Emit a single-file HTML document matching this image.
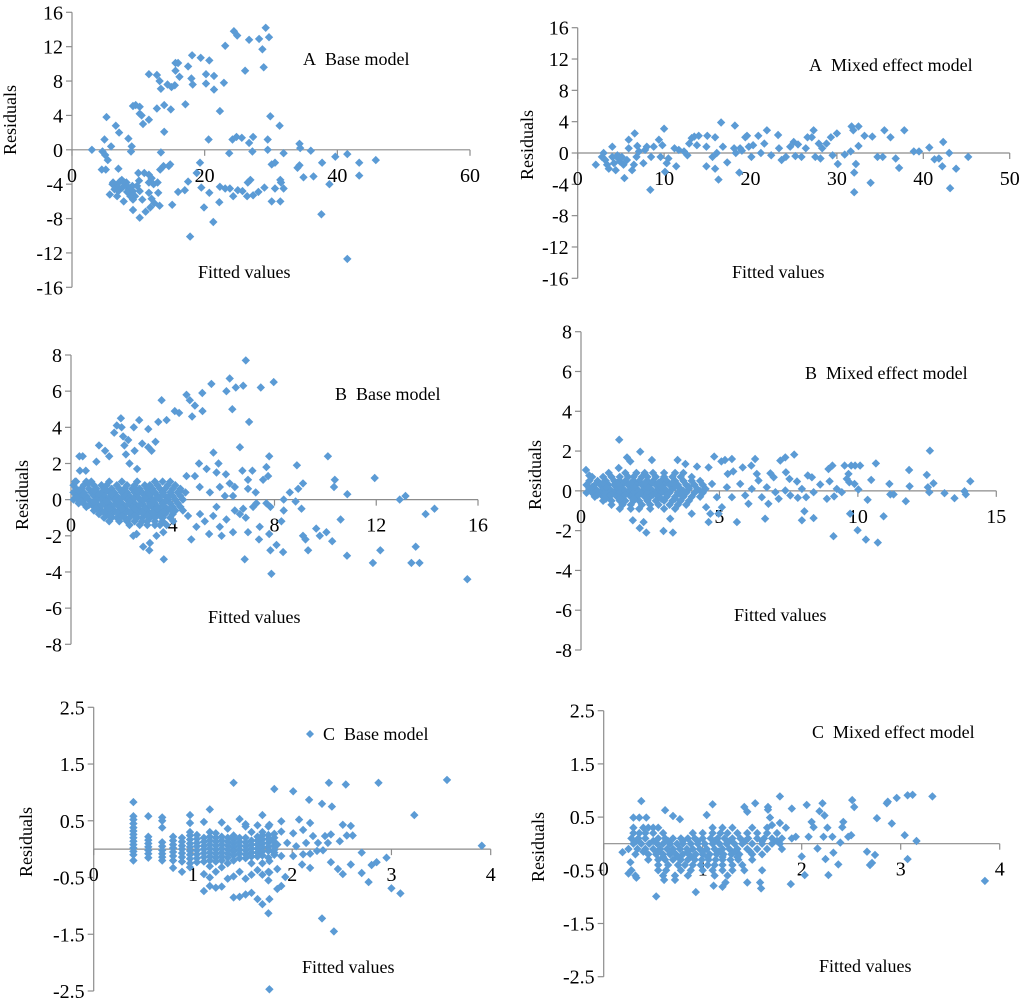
<!DOCTYPE html>
<html><head><meta charset="utf-8">
<style>
html,body{margin:0;padding:0;background:#fff;}
svg{display:block;font-family:"Liberation Serif",serif;}
</style></head>
<body>
<svg id="fig" width="1024" height="1005" viewBox="0 0 1024 1005" xmlns="http://www.w3.org/2000/svg"></svg>
<script>
// ---------- DATA ----------
const aBaseTicksX = ["0","20","40","60"];
const aBaseTicksY = ["16","12","8","4","0","-4","-8","-12","-16"];
const aBase = [[3,0],[4.5,-2.3],[5.1,-2.3],[4.9,1.2],[5.2,3.8],[4.6,-0.2],[5,-0.6],[5.4,-1.2],[5.9,0.4],[5.7,-5.2],[6.6,2.8],[7.1,2],[7,-2.2],[6.2,-3.8],[6.7,-4.2],[7,-4.8],[7.5,-3.5],[7.8,-6],[8.2,-3.8],[8.5,1.3],[9,0.4],[8.9,-0.2],[9.2,5.1],[9.6,5.2],[10.2,5],[10.2,4.2],[10.5,4],[10.7,3],[11.6,3.5],[11.6,8.8],[12.8,8.7],[13.2,8],[13.4,7.1],[12.8,4.8],[13.9,5.2],[13.9,2.1],[13.4,-0.3],[14.4,7.6],[15,7.3],[15.5,7.5],[14.9,4.7],[15.6,9.2],[15.6,10.1],[16,10.1],[16.2,8.5],[17.1,5.3],[17.5,9.7],[18.1,11],[18,8.3],[18.2,7.6],[19.4,10.7],[20.2,8.8],[20.2,7.7],[20.7,10.4],[21.4,8.6],[21.4,7],[22.3,4.5],[22.9,7.8],[23.1,12.1],[24.4,13.8],[24.9,13.3],[20.6,1.2],[23.7,-0.4],[24.2,1.2],[24.8,1.5],[25.6,1.4],[26.1,9.2],[26.7,12.8],[27.3,1.5],[26.7,0.8],[27.2,-0.2],[28.2,12.9],[28.7,11.7],[28.9,9.6],[29.2,14.2],[29.7,13.1],[29.5,1.2],[29.5,0],[29.9,3.9],[31.3,2.8],[30.1,-1.7],[30.6,-1.5],[31.9,-0.4],[34.3,0.7],[34.4,0.2],[36,-0.1],[34,-2.1],[34.3,-1.8],[34.9,-3.2],[36.4,-3.1],[37.7,-1.5],[39.7,-0.8],[41.5,-0.5],[43.3,-1.5],[43.3,-3],[45.8,-1.2],[38.8,-4],[37.6,-7.5],[41.5,-12.7],[9.1,-4.2],[9.2,-4.8],[9.5,-5.4],[9.8,-4.2],[10.1,-3.6],[10.2,-4.8],[9.2,-5.8],[9.2,-7],[10.2,-7.9],[10.6,-5.8],[11.1,-7.2],[10,-2.7],[10.9,-2.7],[11.6,-2.9],[11.6,-3.8],[12,-3.3],[12.3,-4],[12.9,-3.8],[11.6,-5],[12,-5.7],[12.4,-6.2],[13,-5],[11.8,-6.7],[13.2,-6.5],[13.3,-2.3],[13.8,-1.9],[14.6,-1.9],[14.8,-1.7],[15.1,-6.4],[16,-4.9],[17,-4.7],[17.8,-10.1],[17.5,-3.7],[18.8,-2.7],[19.3,-1.5],[19.5,-4.4],[19.9,-6.7],[20.7,-5],[21.3,-8.4],[22.2,-6.1],[22.3,-4.3],[23.1,-4.5],[23.8,-4.5],[24.3,-5.4],[25,-4.7],[25.7,-4.8],[26.4,-5.4],[26.5,-3.8],[26.9,-3.5],[27.3,-5.3],[28.1,-4.9],[29,-4.4],[30.1,-6],[30.6,-4.5],[31.4,-6],[31.4,-3.5],[31.5,-3.8],[31.9,-4.5],[6.1,-4],[6.4,-4.6],[6.8,-5.4],[7.2,-3.7],[7.6,-4.4],[7.9,-3.8],[8.3,-4.2],[8.6,-4.6],[8.8,-5.4],[8.3,-4.9]];

const aMixedTicksX = ["0","10","20","30","40","50"];
const aMixedTicksY = ["16","12","8","4","0","-4","-8","-12","-16"];
const aMixed = [[2.1,-1.5],[2.8,-0.5],[3,0],[3.2,-0.9],[3.4,-1.5],[3.6,-2],[4,0.8],[4,-0.5],[4.2,-1.3],[4.4,-2.2],[4.6,-0.3],[4.7,-0.7],[4.9,-1.1],[5.1,-0.5],[5.3,-1.5],[5.4,-3.2],[5.7,-0.9],[5.9,1.7],[5.9,0.6],[6.3,-2.2],[6.5,-1.5],[6.6,2.5],[6.8,-0.5],[6.9,0.9],[7.1,0.2],[7.6,-1.3],[7.8,0.4],[8,0.8],[8.4,-4.7],[8.5,-0.5],[8.8,0.8],[9.4,1.7],[9.6,-0.5],[9.8,1],[10,3.1],[10.1,-2.4],[10.3,-1.3],[10.5,-0.7],[11.2,0.6],[11.4,-1.7],[11.7,0.4],[12.3,0.2],[12.7,-0.3],[12.9,1.2],[13.2,1.9],[13.5,2.1],[13.8,1],[14,2.2],[15,2.2],[14.9,0.8],[14.9,-1.7],[15.6,-0.5],[15.9,2],[15.9,-2],[16.1,0],[16.3,-3.4],[16.6,3.9],[16.8,0.8],[17.3,-1.2],[18.1,0.6],[18.2,3.5],[18.3,0],[18.7,-2.5],[18.8,0.6],[19,0.3],[19.4,2],[19.6,2.2],[19.8,0.8],[20.1,-0.5],[20.3,1],[20.9,2.2],[21.2,0],[21.6,1.2],[21.9,2.9],[22.4,-0.3],[23.2,2.3],[23.3,0.6],[23.6,-0.9],[24.1,-0.5],[24.6,0.8],[25,1.4],[25.2,-0.4],[25.5,1.1],[25.9,-0.5],[26.4,0.6],[26.6,2],[27.1,2],[27.3,2.9],[27.5,-0.5],[27.9,1.2],[28.1,-0.7],[28.3,0.6],[28.8,1.2],[29.3,2],[29.5,-0.3],[30,2.5],[30.1,-1.4],[30.9,-0.2],[31.6,0.2],[31.7,3.4],[31.9,2.9],[32,-2.5],[32,-5],[32.2,-1.4],[32.5,0.9],[32.5,3.4],[33.2,2.2],[33.9,-3.8],[34.1,2.1],[34.7,-0.5],[35.3,-0.5],[35.5,2.9],[36.2,2],[36.8,-0.7],[37.2,-1.9],[37.8,2.9],[38.9,0.2],[39.5,0.2],[40.7,0.7],[41.3,-0.8],[41.8,-0.7],[42.2,-1.7],[42.3,1.4],[43,0],[43.1,-4.5],[43.8,-2],[45.2,-0.5]];

const bBaseTicksX = ["0","4","8","12","16"];
const bBaseTicksY = ["8","6","4","2","0","-2","-4","-6","-8"];
const bBaseRowY = [1.0,0.8,0.6,0.4,0.2,0.0,-0.2,-0.4,-0.6,-0.8,-1.0,-1.2,-1.4,0.1,-0.1,-0.3,-0.5,-0.7,-0.9,0.3,0.5];
const bBaseRowX = [
 [0.2,0.6,0.8,1.5,2.0,2.6,3.3,3.6,3.9],
 [0.1,0.5,0.9,1.2,1.4,1.8,2.2,2.5,2.9,3.1,3.4,3.8,4.1],
 [0.2,0.4,0.7,1.0,1.3,1.6,1.9,2.1,2.4,2.7,3.0,3.2,3.5,3.7,4.0,4.3],
 [0.1,0.3,0.5,0.8,1.0,1.2,1.5,1.7,2.0,2.2,2.5,2.8,3.0,3.3,3.6,3.9,4.2,4.5],
 [0.2,0.4,0.6,0.9,1.1,1.3,1.6,1.8,2.1,2.3,2.6,2.9,3.1,3.4,3.7,4.0,4.3],
 [0.1,0.3,0.5,0.7,1.0,1.2,1.4,1.7,1.9,2.2,2.4,2.7,3.0,3.2,3.5,3.8,4.1,4.4],
 [0.3,0.5,0.8,1.0,1.3,1.5,1.8,2.0,2.3,2.5,2.8,3.1,3.3,3.6,3.9,4.2],
 [0.6,0.9,1.1,1.4,1.6,1.9,2.1,2.4,2.6,2.9,3.2,3.4,3.7,4.0,4.3],
 [0.9,1.2,1.5,1.7,2.0,2.2,2.5,2.7,3.0,3.3,3.5,3.8,4.1],
 [1.1,1.4,1.6,1.9,2.1,2.4,2.6,2.9,3.1,3.4,3.7,4.0],
 [1.3,1.6,1.8,2.1,2.3,2.6,2.8,3.1,3.3,3.6,3.9],
 [1.5,1.9,2.2,2.5,2.8,3.0,3.3,3.6],
 [2.3,2.7,3.0,3.3,3.5],
 [0.2,0.6,1.1,1.5,2.0,2.5,2.9,3.4,3.8],
 [0.4,0.9,1.4,1.8,2.3,2.8,3.2,3.7],
 [0.7,1.2,1.7,2.2,2.7,3.1,3.6],
 [1.0,1.5,2.0,2.5,2.9,3.4,3.9],
 [1.3,1.8,2.3,2.8,3.2,3.6],
 [1.5,2.0,2.5,3.0,3.5],
 [0.5,1.1,1.6,2.1,2.6,3.1,3.6],
 [0.3,0.9,1.4,2.0,2.6,3.2]];
const bBaseOut = [[0.16,1.0],[0.33,2.4],[0.46,2.4],[0.35,1.6],[0.58,1.6],[0.68,0.9],[1.1,3],[1.0,2.1],[1.34,2.7],[1.5,2.4],[1.7,3.7],[1.8,4.1],[1.96,4.5],[1.99,4],[2.05,3.5],[2.1,3],[2.16,2.5],[2.25,3.3],[2.3,2],[2.47,4],[2.5,2.7],[2.68,4.4],[2.6,1.7],[2.8,3.1],[3.04,3.9],[3.04,2.9],[3.17,2.7],[3.32,3.2],[3.43,4.3],[3.56,5.5],[3.76,4.4],[4.08,4.9],[4.25,4.8],[4.54,5.8],[4.67,5.5],[4.76,4.6],[4.87,5.2],[5.17,4.9],[5.16,5.9],[5.52,6.4],[6.24,6.7],[6.11,6],[6.48,6.2],[6.77,6.3],[6.34,5],[6.87,7.7],[7.0,4.3],[7.46,6.2],[7.97,6.5],[6.64,2.9],[5.6,2.6],[5.8,2],[5.03,2],[5.33,1.7],[4.54,1.3],[4.87,1.3],[5.72,1.5],[6.09,1.4],[6.24,0.9],[6.44,0.7],[6.74,1.6],[7.13,1.6],[6.96,1.1],[7.55,1.1],[7.68,1.8],[7.79,2.4],[7.75,1.3],[6.96,0.6],[7.26,0.4],[8.36,0],[8.6,0.4],[8.88,1.9],[8.93,0.6],[9.12,0.9],[10.1,2.4],[10.37,1.1],[10.34,0.7],[10.86,0.3],[11.94,1.2],[12.92,0],[13.15,0.2],[4.28,0.5],[5.06,0.7],[5.46,0.4],[5.85,0.7],[6.05,0.2],[6.37,0.2],[4.4,-0.6],[4.6,-0.9],[4.73,-2.2],[4.93,-1.5],[5.07,-0.8],[5.26,-1.2],[5.43,-1.9],[5.59,-0.9],[5.72,-0.4],[5.85,-1.5],[5.92,-2],[6.11,-1.1],[6.37,-1.8],[6.44,-0.6],[6.64,-0.8],[6.77,-0.5],[6.87,-1],[6.96,-1.8],[6.83,-3.3],[7.16,-0.4],[7.29,-0.2],[7.42,-1.5],[7.39,-2.2],[7.68,-0.2],[7.84,-0.4],[7.79,-1.9],[7.84,-2.8],[7.88,-4.1],[8.08,-2.5],[8.27,-1.2],[8.34,-2.9],[8.36,-0.6],[8.83,-0.1],[9.06,-0.5],[9.12,-2],[9.22,-2.2],[9.32,-2.8],[9.64,-1.6],[9.78,-2],[10.04,-1.8],[10.27,-2.3],[10.6,-1.1],[10.85,-3.1],[11.87,-3.5],[12.16,-2.8],[13.38,-3.5],[13.55,-2.6],[13.7,-3.5],[13.94,-0.8],[14.29,-0.5],[15.58,-4.4],[2.45,-2],[2.58,-1.9],[2.84,-2.6],[3.08,-2.8],[3.1,-2.4],[3.36,-2],[3.63,-1.8],[3.65,-3.3],[3.76,-1.4],[4.02,-1.2]];

const bMixedTicksX = ["0","5","10","15"];
const bMixedTicksY = ["8","6","4","2","0","-2","-4","-6","-8"];
const bMixedRowY = [0.9,0.7,0.5,0.3,0.1,-0.1,-0.3,-0.5,-0.7,-0.9,0.0,0.2,-0.2,0.4,-0.4];
const bMixedRowX = [
 [1.0,1.6,2.0,2.3,2.6,3.0,3.4,3.7],
 [0.4,0.8,1.1,1.4,1.7,1.9,2.2,2.4,2.7,3.0,3.3,3.6,4.0],
 [0.3,0.6,0.9,1.2,1.4,1.6,1.9,2.1,2.4,2.6,2.9,3.1,3.4,3.7,4.0,4.3],
 [0.2,0.5,0.7,1.0,1.2,1.5,1.7,2.0,2.2,2.5,2.7,3.0,3.2,3.5,3.8,4.1,4.4],
 [0.3,0.5,0.8,1.0,1.3,1.5,1.8,2.0,2.3,2.5,2.8,3.0,3.3,3.6,3.9,4.2,4.5],
 [0.2,0.4,0.7,0.9,1.2,1.4,1.7,1.9,2.2,2.4,2.7,2.9,3.2,3.5,3.8,4.1,4.4],
 [0.5,0.8,1.0,1.3,1.5,1.8,2.0,2.3,2.5,2.8,3.1,3.4,3.7,4.0,4.3],
 [0.8,1.1,1.4,1.6,1.9,2.1,2.4,2.7,3.0,3.3,3.6,3.9],
 [1.1,1.5,1.8,2.2,2.5,2.8,3.2,3.5,3.8],
 [1.4,1.8,2.1,2.5,3.0,3.4],
 [0.6,1.1,1.6,2.1,2.6,3.1,3.7,4.3],
 [0.4,0.9,1.4,1.9,2.4,2.9,3.4,3.9],
 [0.6,1.1,1.6,2.1,2.6,3.1,3.6],
 [0.8,1.3,1.8,2.3,2.8,3.3],
 [0.9,1.4,1.9,2.4,2.9,3.4]];
const bMixedOut = [[0.18,1.05],[0.3,0.77],[1.38,2.57],[1.36,1.15],[1.66,1.68],[1.78,1.48],[2.14,1.97],[2.56,1.55],[1.87,-1.48],[2.12,-1.87],[2.26,-1.57],[2.36,-2.1],[2.98,-2.02],[3.32,-2.1],[3.22,-1.4],[3.49,1.55],[3.77,1.35],[4.19,1.22],[4.0,-1.15],[4.61,1.18],[4.81,1.72],[4.61,-1.57],[5.07,1.48],[5.2,1.55],[5.45,1.6],[5.5,0.98],[5.3,0.85],[5.84,1.18],[5.63,-1.57],[6.29,1.6],[6.15,1.27],[6.35,0.85],[6.65,-1.4],[6.84,0.88],[7.2,1.52],[7.38,1.68],[7.7,1.82],[7.4,0.93],[7.53,0.6],[7.8,0.47],[7.98,0.1],[8.19,0.77],[8.34,0.68],[7.83,-0.35],[8.13,-0.32],[8.07,-1.03],[7.98,-1.48],[8.4,-0.07],[8.4,-1.37],[8.64,0.32],[8.88,-0.4],[8.98,0.48],[8.94,1.1],[9.08,1.27],[9.12,-2.28],[9.14,-0.28],[9.24,0.1],[9.42,-0.07],[9.52,1.27],[9.6,0.6],[9.69,0.43],[9.76,1.27],[9.9,1.27],[9.88,0.35],[10.02,0.07],[10.08,1.27],[9.72,-1.15],[9.99,-1.98],[10.29,-2.45],[10.35,-0.45],[10.48,0.55],[10.65,1.38],[10.72,-2.6],[10.93,-1.28],[11.14,0.35],[11.17,-0.18],[11.29,-0.18],[11.73,-0.52],[11.85,1.05],[11.87,0.23],[12.49,0.8],[12.53,0.18],[12.58,-0.07],[12.6,2.02],[12.73,0.38],[13.13,-0.12],[13.49,-0.37],[13.85,-0.02],[13.9,-0.18],[14.06,0.48],[9.66,0.85],[4.37,-0.07],[4.73,0.35],[4.91,-0.32],[5.09,-0.82],[5.27,0.18],[5.45,-0.32],[5.75,0.35],[5.93,-0.23],[6.05,-0.65],[6.17,0.1],[6.41,0.52],[6.53,-0.32],[6.71,0.18],[6.77,-0.65],[6.96,0.68],[7.02,-0.07],[7.14,-0.4],[7.38,0.02],[7.56,-0.23],[4.52,-0.82],[4.67,-1.15],[4.97,-1.15]];

const cBaseTicksX = ["0","1","2","3","4"];
const cBaseTicksY = ["2.5","1.5","0.5","-0.5","-1.5","-2.5"];
const cBaseColX = [0.40,0.55,0.69,0.80,0.89,0.97,1.04,1.11,1.17,1.23,1.29,1.35,1.41,1.47,1.53,1.59,1.65,1.70,1.76,1.82];
const cBaseColY = [
 [0.83,0.58,0.52,0.45,0.38,0.32,0.26,0.2,0.14,0.08,0.02,-0.04,-0.1,-0.2],
 [0.58,0.22,0.16,0.1,0.04,-0.02,-0.08,-0.15],
 [0.56,0.5,0.38,0.12,0.05,-0.02,-0.08,-0.14,-0.2],
 [0.22,0.15,0.08,0.02,-0.05,-0.12,-0.2,-0.33],
 [0.2,0.13,0.06,0,-0.07,-0.14,-0.22,-0.4],
 [0.6,0.46,0.3,0.24,0.17,0.1,0.04,-0.03,-0.1,-0.17,-0.25,-0.32],
 [0.25,0.18,0.11,0.05,-0.02,-0.09,-0.16,-0.23],
 [0.48,0.2,0.13,0.06,0,-0.07,-0.14,-0.22,-0.44,-0.74],
 [0.7,0.3,0.22,0.15,0.08,0.01,-0.06,-0.13,-0.2,-0.3,-0.5,-0.65],
 [0.28,0.2,0.13,0.06,-0.01,-0.08,-0.15,-0.22,-0.4,-0.68],
 [0.47,0.22,0.15,0.08,0.01,-0.06,-0.13,-0.2,-0.32,-0.66],
 [0.36,0.2,0.13,0.06,-0.01,-0.08,-0.15,-0.25,-0.52],
 [1.17,0.24,0.17,0.1,0.03,-0.04,-0.11,-0.2,-0.48,-0.85],
 [0.53,0.2,0.13,0.06,-0.01,-0.08,-0.16,-0.4,-0.84],
 [0.44,0.4,0.2,0.12,0.05,-0.02,-0.09,-0.16,-0.52,-0.8],
 [0.3,0.15,0.08,0.01,-0.06,-0.13,-0.25,-0.45,-0.77],
 [0.42,0.22,0.15,0.08,0.01,-0.06,-0.13,-0.37,-0.88],
 [0.6,0.3,0.24,0.17,0.1,0.03,-0.04,-0.11,-0.25,-0.45,-0.97],
 [0.4,0.25,0.18,0.11,0.04,-0.03,-0.15,-0.4,-0.55,-1.13],
 [0.27,0.2,0.13,0.06,-0.01,-0.1]];
const cBaseOut = [[1.77,0.43],[1.77,0.17],[1.77,-0.21],[1.77,-0.41],[1.77,-0.88],[1.77,-2.47],[1.82,1.06],[1.82,-0.06],[1.85,0.08],[1.85,-0.35],[1.89,0.49],[1.89,0.31],[1.89,-0.12],[1.85,-0.7],[1.89,-0.65],[1.93,-0.49],[1.95,0.11],[2.01,1.02],[2.01,0.28],[2.01,-0.12],[2.04,0.05],[2.07,0.52],[2.1,-0.27],[2.11,0.34],[2.11,-0.09],[2.14,0.11],[2.17,0.87],[2.18,0.46],[2.18,-0.08],[2.18,-0.33],[2.21,0.23],[2.25,-0.03],[2.26,0.11],[2.3,0.8],[2.3,-1.22],[2.31,-0.02],[2.33,0.23],[2.36,0.11],[2.37,1.17],[2.39,0.26],[2.39,-0.23],[2.4,0.75],[2.42,-1.45],[2.46,-0.35],[2.48,0.14],[2.51,0.43],[2.51,-0.44],[2.54,1.14],[2.55,0.24],[2.59,0.41],[2.59,-0.27],[2.61,0.24],[2.7,-0.06],[2.7,-0.42],[2.77,-0.58],[2.8,-0.28],[2.85,-0.23],[2.87,1.17],[2.95,-0.15],[3,-0.69],[3.09,-0.78],[3.23,0.6],[3.56,1.22],[3.91,0.06]];

const cMixedTicksX = ["0","1","2","3","4"];
const cMixedTicksY = ["2.5","1.5","0.5","-0.5","-1.5","-2.5"];
const cMixedRowY = [0.3,0.2,0.1,0.0,-0.1,-0.2,-0.3,-0.4,-0.5,-0.6,0.05,-0.15,-0.25];
const cMixedRowX = [
 [0.3,0.4,0.45,0.5,0.55,1.1,1.2,1.3,1.5,1.65],
 [0.3,0.36,0.42,0.5,0.6,0.9,1.0,1.1,1.18,1.25,1.35,1.45,1.55,1.65,1.75],
 [0.28,0.35,0.42,0.55,0.62,0.7,0.78,0.85,0.92,1.0,1.08,1.15,1.22,1.3,1.38,1.46,1.55,1.62,1.7,1.8,1.9],
 [0.3,0.38,0.46,0.54,0.6,0.67,0.74,0.8,0.88,0.95,1.02,1.1,1.17,1.24,1.32,1.4,1.5,1.6,1.7,1.78],
 [0.25,0.34,0.42,0.5,0.57,0.64,0.7,0.77,0.84,0.9,0.97,1.04,1.12,1.2,1.27,1.35,1.45,1.55,1.65,1.8],
 [0.32,0.45,0.53,0.6,0.67,0.73,0.8,0.86,0.93,1.0,1.07,1.14,1.21,1.29,1.37,1.5,1.6],
 [0.45,0.55,0.62,0.7,0.78,0.85,0.92,0.99,1.06,1.13,1.2,1.28,1.36,1.5],
 [0.55,0.65,0.75,0.82,0.9,0.98,1.05,1.12,1.2,1.3,1.4],
 [0.28,0.55,0.63,0.78,0.88,1.0,1.1,1.2,1.3,1.42,1.6],
 [0.32,0.6,0.72,0.85,1.12,1.25],
 [0.33,0.5,0.65,0.8,0.95,1.12,1.27,1.43,1.6,1.75],
 [0.4,0.55,0.7,0.85,1.0,1.16,1.32,1.48],
 [0.6,0.75,0.9,1.05,1.2,1.35]];
const cMixedOut = [[0.38,0.8],[0.62,0.63],[0.7,0.52],[0.77,0.46],[0.3,0.49],[0.36,0.49],[0.43,0.49],[0.53,-0.99],[0.25,-0.56],[0.33,-0.64],[0.27,-0.35],[0.19,-0.16],[0.61,-0.68],[0.72,-0.68],[0.93,-0.91],[1.04,0.54],[1.1,0.74],[1.11,-0.79],[1.2,-0.81],[1.23,-0.73],[1.42,0.69],[1.45,0.6],[1.53,0.76],[1.45,-0.73],[1.58,-0.73],[1.59,-0.84],[1.66,0.69],[1.66,0.64],[1.68,0.49],[1.7,0.35],[1.78,0.89],[1.78,0.39],[1.84,0.3],[1.9,0.66],[1.89,-0.76],[1.94,0.13],[2.0,-0.24],[2.03,-0.59],[2.05,0.73],[2.07,0.13],[2.1,0.41],[2.12,0.31],[2.16,-0.09],[2.18,0.61],[2.21,0.76],[2.22,0.13],[2.23,0.53],[2.24,-0.29],[2.26,0.3],[2.27,-0.59],[2.31,0.13],[2.32,-0.17],[2.37,-0.39],[2.39,0.02],[2.41,0.31],[2.42,0.41],[2.47,0.13],[2.51,0.82],[2.53,0.69],[2.5,0.16],[2.66,-0.15],[2.69,-0.4],[2.71,-0.36],[2.74,-0.21],[2.76,0.48],[2.86,0.76],[2.87,0.79],[2.91,0.38],[2.96,0.86],[3.04,0.16],[3.07,0.91],[3.07,-0.29],[3.12,0.92],[3.16,0.05],[3.32,0.89],[3.85,-0.7]];

// ---------- DRAWING ----------
const NS = "http://www.w3.org/2000/svg";
const svg = document.getElementById("fig");
const BLUE = "#5b9bd5", AXIS = "#8c8c8c";

function mk(tag, attrs, parent) {
  const e = document.createElementNS(NS, tag);
  for (const k in attrs) e.setAttribute(k, attrs[k]);
  parent.appendChild(e);
  return e;
}
function rowsToPts(rowY, rowX) {
  const out = [];
  rowY.forEach((y, i) => rowX[i].forEach(x => out.push([x, y])));
  return out;
}
function colsToPts(colX, colY) {
  const out = [];
  colX.forEach((x, i) => colY[i].forEach(y => out.push([x, y])));
  return out;
}

function panel(cfg) {
  const g = mk("g", {}, svg);
  
  
  const xMin = 0, xMax = cfg.xMax;
  const yMax = cfg.yMax, yMin = -cfg.yMax;
  const sx = v => cfg.px0 + (v - xMin) / (xMax - xMin) * (cfg.px1 - cfg.px0);
  const sy = v => cfg.pyTop + (yMax - v) / (yMax - yMin) * (cfg.pyBot - cfg.pyTop);
  const y0 = sy(0);
  const ya = mk("line", {x1: cfg.px0, x2: cfg.px0, y1: cfg.pyTop, y2: cfg.pyBot, stroke: AXIS, "stroke-width": 1.2}, g);
  
  
  const ny = cfg.yTicks.length;
  cfg.yTicks.forEach((lab, i) => {
    const v = yMax - i * (yMax - yMin) / (ny - 1);
    const yy = sy(v);
    mk("line", {x1: cfg.px0 - 6, x2: cfg.px0, y1: yy, y2: yy, stroke: AXIS, "stroke-width": 1.2}, g);
    const t = mk("text", {x: cfg.px0 - 9, y: yy + 7, "text-anchor": "end", "font-size": 20, fill: "#000"}, g);
    t.textContent = lab;
    
    
  });
  const xa = mk("line", {x1: cfg.px0, x2: cfg.px1, y1: y0, y2: y0, stroke: AXIS, "stroke-width": 1.2}, g);
  
  
  const nx = cfg.xTicks.length;
  cfg.xTicks.forEach((lab, i) => {
    const v = xMin + i * (xMax - xMin) / (nx - 1);
    const xx = sx(v);
    mk("line", {x1: xx, x2: xx, y1: y0, y2: y0 + 6, stroke: AXIS, "stroke-width": 1.2}, g);
    const t = mk("text", {x: xx, y: y0 + 32, "text-anchor": "middle", "font-size": 20, fill: "#000"}, g);
    t.textContent = lab;
    
    
  });
  const pg = mk("g", {fill: BLUE}, g);
  
  
  const r = 4.2;
  cfg.pts.forEach(p => {
    const cx = sx(p[0]), cy = sy(p[1]);
    const d = mk("path", {d: `M${cx.toFixed(1)} ${(cy - r).toFixed(1)}L${(cx + r).toFixed(1)} ${cy.toFixed(1)}L${cx.toFixed(1)} ${(cy + r).toFixed(1)}L${(cx - r).toFixed(1)} ${cy.toFixed(1)}Z`}, pg);
    
    
  });
  const tt = mk("text", {x: cfg.titleX, y: cfg.titleY + 6, "font-size": 18, fill: "#000"}, g);
  tt.textContent = cfg.title;
  
  
  if (cfg.legendMarker) {
    const lx = cfg.titleX - 13, ly = cfg.titleY;
    const lm = mk("path", {d: `M${lx} ${ly - 4}L${lx + 4} ${ly}L${lx} ${ly + 4}L${lx - 4} ${ly}Z`, fill: BLUE}, g);
    
    
  }
  const xt = mk("text", {x: cfg.fvX, y: cfg.fvY + 6, "font-size": 18, fill: "#000"}, g);
  xt.textContent = "Fitted values";
  
  
  const yt = mk("text", {x: 0, y: 0, "font-size": 18, fill: "#000", "text-anchor": "middle",
    transform: `translate(${cfg.resX + 6},${cfg.resY}) rotate(-90)`}, g);
  yt.textContent = "Residuals";
  
  
}

panel({name: "panel-a-base-model", px0: 72, px1: 470, xMax: 60, pyTop: 12.3, pyBot: 287.3, yMax: 16,
  xTicks: aBaseTicksX, yTicks: aBaseTicksY, pts: aBase,
  title: "A\u00a0\u00a0Base model", titleX: 303, titleY: 59, fvX: 198, fvY: 272, resX: 10, resY: 120});
panel({name: "panel-a-mixed-effect-model", px0: 577.7, px1: 1009.7, xMax: 50, pyTop: 27.7, pyBot: 278.3, yMax: 16,
  xTicks: aMixedTicksX, yTicks: aMixedTicksY, pts: aMixed,
  title: "A\u00a0\u00a0Mixed effect model", titleX: 809, titleY: 65, fvX: 732, fvY: 272, resX: 527, resY: 145});
panel({name: "panel-b-base-model", px0: 71, px1: 478, xMax: 16, pyTop: 355, pyBot: 644.3, yMax: 8,
  xTicks: bBaseTicksX, yTicks: bBaseTicksY, pts: rowsToPts(bBaseRowY, bBaseRowX).concat(bBaseOut),
  title: "B\u00a0\u00a0Base model", titleX: 335, titleY: 394, fvX: 208, fvY: 617, resX: 22, resY: 495});
panel({name: "panel-b-mixed-effect-model", px0: 581, px1: 996.3, xMax: 15, pyTop: 331.7, pyBot: 650, yMax: 8,
  xTicks: bMixedTicksX, yTicks: bMixedTicksY, pts: rowsToPts(bMixedRowY, bMixedRowX).concat(bMixedOut),
  title: "B\u00a0\u00a0Mixed effect model", titleX: 805, titleY: 373, fvX: 734, fvY: 615, resX: 535, resY: 475});
panel({name: "panel-c-base-model", px0: 93.7, px1: 490.7, xMax: 4, pyTop: 707.3, pyBot: 991, yMax: 2.5,
  xTicks: cBaseTicksX, yTicks: cBaseTicksY, pts: colsToPts(cBaseColX, cBaseColY).concat(cBaseOut),
  title: "C\u00a0\u00a0Base model", titleX: 323, titleY: 734, fvX: 302, fvY: 967, resX: 26, resY: 842, legendMarker: true});
panel({name: "panel-c-mixed-effect-model", px0: 603.7, px1: 999.7, xMax: 4, pyTop: 710.7, pyBot: 976.7, yMax: 2.5,
  xTicks: cMixedTicksX, yTicks: cMixedTicksY, pts: rowsToPts(cMixedRowY, cMixedRowX).concat(cMixedOut),
  title: "C\u00a0\u00a0Mixed effect model", titleX: 812, titleY: 732, fvX: 819, fvY: 966, resX: 538, resY: 847});
</script>
</body></html>
